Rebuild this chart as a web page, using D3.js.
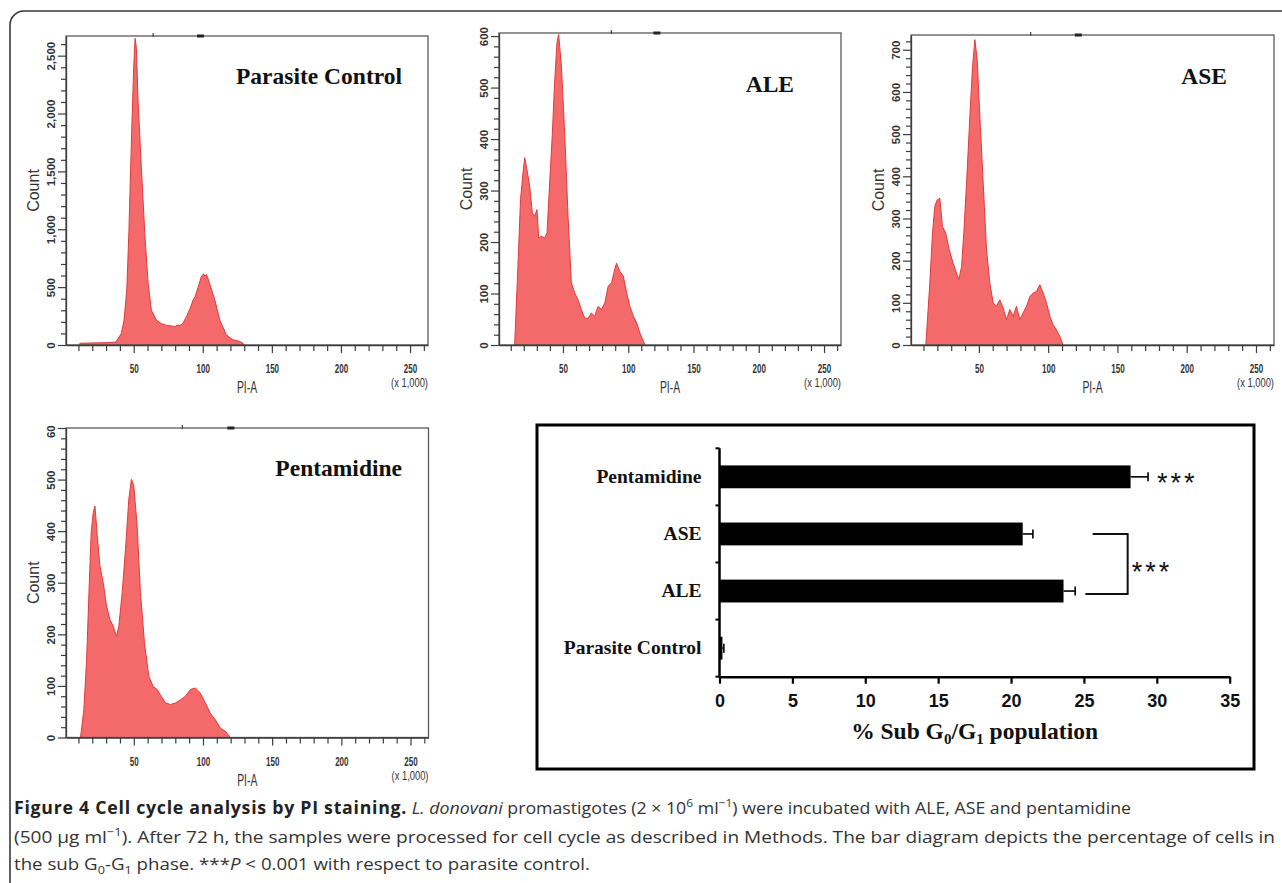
<!DOCTYPE html>
<html>
<head>
  <title>Figure 4 Cell cycle analysis</title>
  <style>
    body { margin: 0; background: #fff; }
    svg { display: block; }
    .hist-axis text { font-family: Arial, "Liberation Sans", sans-serif; fill: #333; }
    .hist-axis path, .hist-axis line { stroke: #3c3c3c; }
    .bar-axis text { font-family: Arial, "Liberation Sans", sans-serif; font-weight: bold; fill: #111; }
    .serif { font-family: "Times New Roman", "Liberation Serif", serif; font-weight: bold; fill: #111; }
  </style>
</head>
<body>
  <svg width="1282" height="883"></svg>
  <script src="https://d3js.org/d3.v7.min.js"></script>
  <script>
    // histogram readings: [PI-A (x 1,000), count]
    const pcData = [[11,15],[20,18],[30,20],[37,25],[39,60],[41,100],[43,215],[45,475],[46.5,970],[48.5,1830],
      [50,2400],[51,2650],[52,2560],[53.1,2120],[55.5,1540],[58,970],[60.4,535],[62.8,300],[66.4,215],[70,185],
      [73.7,170],[77,165],[79.7,160],[82,172],[83.5,168],[85.7,190],[87.5,230],[88.5,250],[89.4,280],[91,320],
      [93,390],[94.5,420],[96.6,500],[99,590],[100.5,615],[101.5,595],[102.7,610],[105,530],[108.7,390],[112.3,215],
      [117,90],[120,60],[122,45],[124,40],[126.8,30],[129,15],[130.4,0]];
    const aleData = [[13,0],[15.5,153],[17.5,283],[19.4,334],[20.7,364],[22.4,341],[24.5,308],[26.5,257],[28.3,250],
      [30.1,263],[31.4,208],[33.4,211],[36,208],[37.8,218],[39.8,315],[41.9,412],[43.6,509],[45.4,587],[46.7,603],
      [48.8,542],[51.3,412],[53.9,250],[56.4,121],[59,101],[61.5,88],[64.1,69],[66.7,52],[69.2,52],[71.8,62],
      [74.3,56],[76.9,75],[79.5,69],[82.1,82],[84.6,114],[87.2,121],[89,140],[91,159],[93.6,143],[96.2,134],
      [98.8,101],[101.3,75],[103.9,56],[106.5,43],[109,23],[112.8,0]];
    const aseData = [[11.7,0],[14.6,147],[16.5,265],[18.2,329],[19.9,344],[21.8,348],[23.7,281],[26.1,265],[28.6,226],
      [31.4,194],[33.8,171],[35.5,155],[37.5,186],[39.1,265],[41.1,384],[43.5,542],[45.4,660],[47.1,724],[48.8,676],
      [50.7,542],[53.1,384],[55.5,226],[57.9,147],[60.3,100],[62.7,92],[65.1,107],[67.5,88],[69.9,60],[72.3,84],
      [74.7,68],[77.1,92],[79.5,60],[81.9,76],[84.4,92],[86.8,115],[89.2,123],[91.6,127],[94,143],[96.4,123],
      [98.8,100],[101.2,68],[103.6,48],[106,36],[108.4,21],[110.8,0]];
    const pentData = [[11.5,0],[13.9,54],[15.9,151],[17.6,281],[19.2,398],[20.7,436],[21.9,449],[23.6,391],[25.5,333],
      [27.9,300],[30.3,255],[32.7,229],[35.1,216],[37.5,196],[39.2,216],[41.6,281],[44,365],[46.4,462],[48.3,501],
      [50,488],[52.4,411],[54.8,281],[57.7,184],[60.8,119],[64,99],[66.9,93],[69.8,80],[72.9,67],[76.5,64],
      [80.1,67],[83.7,73],[87.3,80],[90.9,93],[94.5,96],[98.1,86],[101.7,67],[105.3,47],[109,34],[112.6,18],
      [116.2,12],[119.8,0]];
    // gate markers on the top edge of each histogram (PI-A)
    const pcGates = [64, 98];
    const aleGates = [87, 121.6];
    const aseGates = [87.3, 121.4];
    const pentGates = [85, 119.8];

    // bar diagram
    const barCategories = ["Pentamidine", "ASE", "ALE", "Parasite Control"];
    const barValues = [28.2, 20.8, 23.6, 0.2];
    const barErrors = [1.2, 0.7, 0.8, 0.1];
    const barTicks = [0, 5, 10, 15, 20, 25, 30, 35];

    const svg = d3.select("svg");
    svg.append("rect").attr("width", 1282).attr("height", 883).attr("fill", "#fff");

    // outer rounded frame (runs off the right and bottom edges)
    svg.append("rect")
      .attr("x", 10).attr("y", 11).attr("width", 1300).attr("height", 900).attr("rx", 14)
      .attr("fill", "none").attr("stroke", "#3a3a3a").attr("stroke-width", 1.6);

    const panels = [
      {title: "Parasite Control", data: pcData, gates: pcGates, left: 66, right: 428, top: 36, bottom: 345,
       yMax: 2670, major: 500, minor: 100, titleX: 402, titleY: 84},
      {title: "ALE", data: aleData, gates: aleGates, left: 499, right: 841, top: 33, bottom: 345,
       yMax: 606, major: 100, minor: 20, titleX: 794, titleY: 92},
      {title: "ASE", data: aseData, gates: aseGates, left: 911, right: 1274, top: 35, bottom: 345,
       yMax: 735, major: 100, minor: 20, titleX: 1227, titleY: 84},
      {title: "Pentamidine", data: pentData, gates: pentGates, left: 66, right: 428.5, top: 428, bottom: 737.5,
       yMax: 600, major: 100, minor: 20, titleX: 402, titleY: 476, clipTop: 426}
    ];

    panels.forEach(function(p, i) {
      const x = d3.scaleLinear().domain([1, 263]).range([p.left, p.right]);
      const y = d3.scaleLinear().domain([0, p.yMax]).range([p.bottom, p.top]);
      const g = svg.append("g");

      // filled histogram
      const area = d3.area()
        .x(function(d) { return x(d[0]); })
        .y0(y(0))
        .y1(function(d) { return y(d[1]); });
      g.append("path")
        .datum(p.data)
        .attr("d", area)
        .attr("fill", "#f46a6a")
        .attr("stroke", "#e23a3a")
        .attr("stroke-width", 1)
        .attr("stroke-linejoin", "round");

      // frame
      g.append("rect")
        .attr("x", p.left).attr("y", p.top)
        .attr("width", p.right - p.left).attr("height", p.bottom - p.top)
        .attr("fill", "none").attr("stroke", "#5a5a5a").attr("stroke-width", 1.3);

      // gate marks
      g.append("rect").attr("x", x(p.gates[0]) - 0.5).attr("y", p.top - 3).attr("width", 1.2).attr("height", 4).attr("fill", "#444");
      g.append("rect").attr("x", x(p.gates[1]) - 3).attr("y", p.top - 1.5).attr("width", 7).attr("height", 3).attr("fill", "#222");

      // x axis
      const xAxis = g.append("g")
        .attr("class", "hist-axis")
        .attr("transform", "translate(0," + p.bottom + ")")
        .call(d3.axisBottom(x)
          .tickValues(d3.range(10, 261, 10))
          .tickSizeOuter(0)
          .tickFormat(function(d) { return d % 50 === 0 ? d : ""; }));
      xAxis.select(".domain").attr("stroke-width", 1.3);
      xAxis.selectAll(".tick line")
        .attr("y2", function(d) { return d % 50 === 0 ? 8 : 6; })
        .attr("stroke-width", 1.2);
      xAxis.selectAll(".tick text")
        .attr("y", 0).attr("dy", 0)
        .attr("transform", "translate(0,28) scale(0.62,1)")
        .attr("font-size", 13).attr("font-weight", "bold");

      // y axis
      const yAxis = g.append("g")
        .attr("class", "hist-axis")
        .attr("transform", "translate(" + p.left + ",0)")
        .call(d3.axisLeft(y)
          .tickValues(d3.range(0, p.yMax + 1, p.minor))
          .tickSizeOuter(0)
          .tickFormat(function(d) { return d % p.major === 0 ? d3.format(",")(d) : ""; }));
      yAxis.select(".domain").attr("stroke-width", 1.3);
      yAxis.selectAll(".tick line")
        .attr("x2", function(d) { return d % p.major === 0 ? -8 : -5; })
        .attr("stroke-width", 1.2);
      yAxis.selectAll(".tick text")
        .attr("x", 0).attr("y", -11).attr("dy", 0)
        .attr("transform", "rotate(-90)")
        .attr("text-anchor", "middle")
        .attr("font-size", 11.5).attr("font-weight", "bold");
      if (p.clipTop) {
        svg.append("clipPath").attr("id", "clip" + i)
          .append("rect").attr("x", -100).attr("y", p.clipTop).attr("width", 600).attr("height", 400);
        yAxis.attr("clip-path", "url(#clip" + i + ")");
      }

      // axis titles
      g.append("text")
        .attr("transform", "translate(" + (p.left - 27) + "," + ((p.top + p.bottom) / 2) + ") rotate(-90)")
        .attr("text-anchor", "middle")
        .attr("font-family", "Arial, 'Liberation Sans', sans-serif")
        .attr("font-size", 16).attr("fill", "#333")
        .text("Count");
      g.append("text")
        .attr("transform", "translate(" + ((p.left + p.right) / 2) + "," + (p.bottom + 48) + ") scale(0.65,1)")
        .attr("text-anchor", "middle")
        .attr("font-family", "Arial, 'Liberation Sans', sans-serif")
        .attr("font-size", 16).attr("fill", "#333")
        .text("PI-A");
      g.append("text")
        .attr("transform", "translate(" + p.right + "," + (p.bottom + 42) + ") scale(0.78,1)")
        .attr("text-anchor", "end")
        .attr("font-family", "Arial, 'Liberation Sans', sans-serif")
        .attr("font-size", 12).attr("fill", "#333")
        .text("(x 1,000)");

      // panel title
      g.append("text")
        .attr("class", "serif")
        .attr("x", p.titleX).attr("y", p.titleY)
        .attr("text-anchor", "end")
        .attr("font-size", 23.5)
        .text(p.title);
    });

    // ---- bar diagram ----
    svg.append("rect")
      .attr("x", 537).attr("y", 425).attr("width", 717).attr("height", 344)
      .attr("fill", "none").attr("stroke", "#000").attr("stroke-width", 3);

    const bx = d3.scaleLinear().domain([0, 35]).range([719.5, 1229.7]);
    const by = d3.scaleBand().domain(barCategories).range([448.3, 676.7]).paddingInner(0.6).paddingOuter(0.3);
    const bars = barCategories.map(function(c, i) { return {name: c, value: barValues[i], err: barErrors[i]}; });

    const bg = svg.append("g");
    bg.selectAll(".bar")
      .data(bars)
      .enter()
      .append("rect")
      .attr("class", "bar")
      .attr("x", bx(0))
      .attr("y", function(d) { return by(d.name); })
      .attr("width", function(d) { return bx(d.value) - bx(0); })
      .attr("height", by.bandwidth())
      .attr("fill", "#000");

    // error bars
    const eb = bg.selectAll(".err").data(bars).enter().append("g").attr("class", "err")
      .attr("stroke", "#000").attr("stroke-width", 1.6);
    eb.append("line")
      .attr("x1", function(d) { return bx(d.value); })
      .attr("x2", function(d) { return bx(d.value + d.err); })
      .attr("y1", function(d) { return by(d.name) + by.bandwidth() / 2; })
      .attr("y2", function(d) { return by(d.name) + by.bandwidth() / 2; });
    eb.append("line")
      .attr("x1", function(d) { return bx(d.value + d.err); })
      .attr("x2", function(d) { return bx(d.value + d.err); })
      .attr("y1", function(d) { return by(d.name) + by.bandwidth() / 2 - 4.5; })
      .attr("y2", function(d) { return by(d.name) + by.bandwidth() / 2 + 4.5; });

    // x axis
    const bxAxis = svg.append("g")
      .attr("class", "bar-axis")
      .attr("transform", "translate(0," + 676.7 + ")")
      .call(d3.axisBottom(bx).tickValues(barTicks).tickSize(7).tickSizeOuter(0).tickPadding(11));
    bxAxis.select(".domain").attr("stroke", "#000").attr("stroke-width", 2.5);
    bxAxis.selectAll(".tick line").attr("stroke", "#000").attr("stroke-width", 2.2);
    bxAxis.selectAll(".tick text").attr("font-size", 18);

    // y axis with category labels and boundary ticks
    const byAxis = svg.append("g")
      .attr("transform", "translate(" + bx(0) + ",0)")
      .call(d3.axisLeft(by).tickSize(0).tickPadding(18));
    byAxis.select(".domain").remove();
    byAxis.selectAll(".tick text")
      .attr("class", "serif")
      .attr("font-size", 19.5);
    const step = by.step();
    const bounds = d3.range(barCategories.length + 1).map(function(i) { return by.range()[0] + i * step; });
    svg.append("line")
      .attr("x1", bx(0)).attr("x2", bx(0))
      .attr("y1", bounds[0]).attr("y2", bounds[bounds.length - 1])
      .attr("stroke", "#000").attr("stroke-width", 2.5);
    svg.selectAll(".btick").data(bounds).enter().append("line")
      .attr("x1", bx(0) - 4).attr("x2", bx(0))
      .attr("y1", function(d) { return d; }).attr("y2", function(d) { return d; })
      .attr("stroke", "#000").attr("stroke-width", 2);

    // x axis title
    const xt = svg.append("text")
      .attr("class", "serif")
      .attr("x", (bx.range()[0] + bx.range()[1]) / 2)
      .attr("y", 739)
      .attr("text-anchor", "middle")
      .attr("font-size", 23.5);
    xt.append("tspan").text("% Sub G");
    xt.append("tspan").attr("font-size", 15).attr("dy", 5).text("0");
    xt.append("tspan").attr("dy", -5).text("/G");
    xt.append("tspan").attr("font-size", 15).attr("dy", 5).text("1");
    xt.append("tspan").attr("dy", -5).text(" population");

    // significance marks
    const pentY = by("Pentamidine") + by.bandwidth() / 2;
    svg.append("text")
      .attr("x", bx(28.2 + 1.2) + 9).attr("y", pentY + 15)
      .attr("font-family", "Arial, 'Liberation Sans', sans-serif")
      .attr("font-size", 27).attr("letter-spacing", 3).attr("fill", "#111")
      .text("***");
    const aseY = by("ASE") + by.bandwidth() / 2;
    const aleY = by("ALE") + by.bandwidth() / 2 + 3;
    svg.append("path")
      .attr("d", "M" + bx(25.6) + "," + aseY + "H" + bx(28) + "V" + aleY + "H" + bx(25.1))
      .attr("fill", "none").attr("stroke", "#111").attr("stroke-width", 2);
    svg.append("text")
      .attr("x", bx(28) + 4).attr("y", (aseY + aleY) / 2 + 17)
      .attr("font-family", "Arial, 'Liberation Sans', sans-serif")
      .attr("font-size", 27).attr("letter-spacing", 3).attr("fill", "#111")
      .text("***");

    // ---- caption ----
    const captionLines = [
      {y: 814, width: 1117, parts: [
        ["Figure 4 Cell cycle analysis by PI staining.", "b"], [" ", ""], ["L. donovani", "i"],
        [" promastigotes (2 \u00d7 10", ""], ["6", "sup"], [" ml", ""], ["\u22121", "sup"],
        [") were incubated with ALE, ASE and pentamidine", ""]]},
      {y: 843, width: 1261, parts: [
        ["(500 \u03bcg ml", ""], ["\u22121", "sup"],
        ["). After 72 h, the samples were processed for cell cycle as described in Methods. The bar diagram depicts the percentage of cells in", ""]]},
      {y: 870, width: 576, parts: [
        ["the sub G", ""], ["0", "sub"], ["-G", ""], ["1", "sub"], [" phase. ***", ""], ["P", "i"],
        [" < 0.001 with respect to parasite control.", ""]]}
    ];
    captionLines.forEach(function(line) {
      const t = svg.append("text")
        .attr("x", 14).attr("y", line.y)
        .attr("font-family", "'Open Sans', 'Noto Sans', sans-serif")
        .attr("font-size", 17).attr("fill", "#333")
        .attr("textLength", line.width)
        .attr("lengthAdjust", "spacingAndGlyphs")
        .style("white-space", "pre");
      let shift = 0;
      line.parts.forEach(function(part) {
        const s = t.append("tspan").text(part[0]);
        let target = 0;
        if (part[1] === "b") s.attr("font-weight", "bold").attr("fill", "#222").attr("letter-spacing", 0.7);
        if (part[1] === "i") s.attr("font-style", "italic");
        if (part[1] === "sup") { s.attr("font-size", 11.5); target = -7; }
        if (part[1] === "sub") { s.attr("font-size", 11.5); target = 4; }
        if (target !== shift) { s.attr("dy", target - shift); shift = target; }
      });
    });
  </script>
</body>
</html>
